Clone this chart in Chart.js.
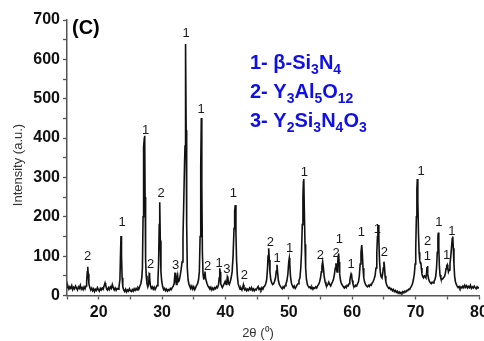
<!DOCTYPE html>
<html>
<head>
<meta charset="utf-8">
<script src="https://cdn.jsdelivr.net/npm/chart.js@4.4.1/dist/chart.umd.min.js"></script>
<style>
  body { margin: 0; background: #fff; }
  #wrap { width: 484px; height: 341px; }
</style>
</head>
<body>
<div id="wrap"><canvas id="xrd" width="484" height="341"></canvas></div>
<script>
/////////////////////////////// data //////////////////////////////////

// measured XRD scan, [2theta, intensity]
const scan = [
  [15.0,20],[15.15,24],[15.3,16],[15.45,22],[15.6,18],[15.75,25],[15.9,15],[16.05,21],[16.2,17],[16.35,24],
  [16.5,19],[16.65,14],[16.8,22],[16.95,18],[17.1,26],[17.25,16],[17.4,20],[17.55,15],[17.7,22],[17.85,17],
  [18.0,24],[18.1,35],[18.2,60],[18.27,73],[18.35,55],[18.45,30],[18.6,20],[18.75,14],[18.9,19],[19.05,12],
  [19.2,17],[19.35,10],[19.5,16],[19.65,13],[19.8,20],[19.95,15],[20.1,11],[20.25,18],[20.4,14],[20.55,19],
  [20.7,16],[20.85,24],[21.0,32],[21.1,26],[21.25,18],[21.4,14],[21.55,20],[21.7,15],[21.85,22],[22.0,18],
  [22.15,28],[22.3,20],[22.45,14],[22.6,19],[22.75,13],[22.9,18],[23.05,16],[23.2,22],[23.35,40],[23.45,110],
  [23.52,151],[23.6,100],[23.7,45],[23.8,22],[23.95,14],[24.1,10],[24.25,16],[24.4,9],[24.55,14],[24.7,11],
  [24.85,17],[25.0,12],[25.15,10],[25.3,15],[25.45,11],[25.6,17],[25.75,13],[25.9,18],[26.05,14],[26.2,20],
  [26.35,17],[26.5,24],[26.65,30],[26.8,45],[26.9,70],[27.0,200],[27.05,370],[27.12,378],[27.2,400],[27.26,406],
  [27.32,250],[27.4,90],[27.5,50],[27.62,30],[27.75,22],[27.88,30],[27.95,50],[28.0,58],[28.07,45],[28.15,26],
  [28.3,18],[28.45,22],[28.6,16],[28.75,21],[28.9,15],[29.05,20],[29.2,25],[29.35,40],[29.45,80],[29.55,180],
  [29.63,237],[29.72,140],[29.82,60],[29.95,35],[30.1,22],[30.25,15],[30.4,18],[30.55,12],[30.7,16],[30.85,11],
  [31.0,15],[31.15,13],[31.3,18],[31.45,15],[31.6,20],[31.75,24],[31.9,30],[32.04,58],[32.15,38],[32.25,28],
  [32.35,45],[32.45,52],[32.55,35],[32.7,38],[32.85,50],[33.0,65],[33.15,85],[33.3,150],[33.45,260],[33.55,340],
  [33.62,380],[33.68,520],[33.73,639],[33.8,420],[33.88,180],[33.98,70],[34.1,40],[34.25,28],[34.4,22],[34.55,18],
  [34.7,24],[34.85,16],[35.0,22],[35.15,15],[35.3,20],[35.45,26],[35.6,30],[35.75,40],[35.88,60],[36.0,150],
  [36.1,330],[36.19,451],[36.27,280],[36.36,110],[36.46,55],[36.58,40],[36.68,52],[36.77,61],[36.86,45],[36.95,38],
  [37.1,30],[37.25,24],[37.4,20],[37.55,16],[37.7,21],[37.85,14],[38.0,19],[38.15,15],[38.3,20],[38.45,17],
  [38.6,23],[38.75,20],[38.9,28],[39.02,45],[39.1,69],[39.16,60],[39.25,30],[39.38,24],[39.5,20],[39.65,25],
  [39.8,30],[39.95,36],[40.1,28],[40.22,35],[40.3,48],[40.38,45],[40.48,32],[40.6,28],[40.75,35],[40.9,45],
  [41.05,60],[41.2,100],[41.35,170],[41.45,215],[41.55,230],[41.65,160],[41.75,90],[41.88,50],[42.0,30],[42.15,22],
  [42.3,16],[42.45,19],[42.6,14],[42.72,20],[42.82,27],[42.92,18],[43.05,14],[43.2,18],[43.35,12],[43.5,16],
  [43.65,13],[43.8,19],[43.95,15],[44.1,20],[44.25,13],[44.4,17],[44.55,12],[44.7,16],[44.85,14],[45.0,19],
  [45.15,23],[45.3,15],[45.45,18],[45.6,14],[45.75,20],[45.9,16],[46.05,22],[46.2,24],[46.35,30],[46.5,40],
  [46.62,65],[46.72,100],[46.82,120],[46.92,90],[47.02,60],[47.15,40],[47.3,32],[47.45,28],[47.6,30],[47.75,36],
  [47.9,45],[48.02,62],[48.13,78],[48.22,60],[48.35,38],[48.5,28],[48.65,24],[48.8,20],[48.95,17],[49.1,22],
  [49.25,19],[49.4,25],[49.55,30],[49.7,38],[49.85,55],[49.98,85],[50.07,95],[50.15,80],[50.25,50],[50.4,32],
  [50.55,25],[50.7,20],[50.85,24],[51.0,18],[51.15,22],[51.3,27],[51.45,30],[51.6,38],[51.75,45],[51.88,70],
  [52.0,110],[52.12,180],[52.22,250],[52.3,290],[52.36,296],[52.44,220],[52.55,130],[52.65,70],[52.78,40],[52.92,28],
  [53.05,24],[53.2,20],[53.35,22],[53.5,17],[53.65,21],[53.8,16],[53.95,20],[54.1,18],[54.25,22],[54.4,19],
  [54.55,25],[54.7,28],[54.85,35],[55.0,45],[55.12,60],[55.22,75],[55.33,86],[55.45,70],[55.58,48],[55.72,35],
  [55.85,28],[56.0,24],[56.15,28],[56.3,34],[56.45,28],[56.6,24],[56.75,30],[56.9,35],[57.05,42],[57.2,55],
  [57.32,70],[57.43,82],[57.52,68],[57.6,60],[57.7,80],[57.78,100],[57.85,107],[57.93,85],[58.02,55],[58.15,38],
  [58.3,30],[58.45,26],[58.6,22],[58.75,19],[58.9,23],[59.05,20],[59.2,26],[59.35,24],[59.5,30],[59.62,38],
  [59.72,48],[59.82,55],[59.9,52],[60.0,38],[60.12,30],[60.25,24],[60.4,22],[60.55,26],[60.7,24],[60.85,30],
  [61.0,36],[61.12,50],[61.25,80],[61.38,110],[61.5,128],[61.6,105],[61.7,70],[61.82,45],[61.95,34],[62.1,28],
  [62.25,24],[62.4,22],[62.55,26],[62.7,23],[62.85,28],[63.0,26],[63.15,32],[63.3,35],[63.45,42],[63.6,50],
  [63.75,70],[63.88,110],[63.98,150],[64.05,170],[64.12,179],[64.2,140],[64.3,90],[64.42,60],[64.55,48],[64.68,45],
  [64.8,55],[64.9,70],[65.0,86],[65.08,75],[65.18,50],[65.3,35],[65.45,26],[65.6,22],[65.75,18],[65.9,20],
  [66.05,15],[66.2,17],[66.35,12],[66.5,15],[66.65,10],[66.8,13],[66.95,8],[67.1,11],[67.25,6],[67.4,9],
  [67.55,5],[67.7,8],[67.85,6],[68.0,10],[68.15,7],[68.3,11],[68.45,9],[68.6,13],[68.75,12],[68.9,16],
  [69.05,15],[69.2,20],[69.35,24],[69.5,30],[69.65,40],[69.8,55],[69.92,80],[70.02,120],[70.12,200],[70.2,270],
  [70.27,296],[70.35,240],[70.45,160],[70.55,110],[70.65,90],[70.75,82],[70.82,84],[70.9,70],[71.0,55],[71.12,48],
  [71.25,45],[71.38,50],[71.5,48],[71.62,45],[71.72,55],[71.8,72],[71.86,75],[71.95,55],[72.05,42],[72.18,36],
  [72.3,33],[72.45,30],[72.6,34],[72.75,32],[72.9,36],[73.05,40],[73.18,50],[73.3,70],[73.42,110],[73.52,150],
  [73.58,160],[73.66,120],[73.75,75],[73.85,52],[73.98,44],[74.1,40],[74.25,42],[74.4,45],[74.55,48],[74.68,55],
  [74.8,68],[74.9,75],[75.0,78],[75.08,70],[75.18,60],[75.3,65],[75.42,80],[75.55,100],[75.68,125],[75.78,145],
  [75.86,150],[75.95,120],[76.05,80],[76.15,50],[76.28,35],[76.42,28],[76.55,24],[76.7,20],[76.85,23],[77.0,18],
  [77.15,22],[77.3,19],[77.45,24],[77.6,20],[77.75,26],[77.9,21],[78.05,25],[78.2,19],[78.35,23],[78.5,20],
  [78.65,26],[78.8,18],[78.95,22],[79.1,19],[79.25,24],[79.4,20],[79.55,17],[79.7,22],[79.85,19],[80.0,21]
];

// phase marks above the peaks
const markTheta = [18.27, 23.68, 27.42, 28.21, 29.83, 32.15, 33.78, 36.14, 37.2, 38.98,
                   40.24, 41.24, 42.97, 47.08, 48.13, 50.14, 52.44, 54.97, 57.44, 57.96,
                   59.81, 61.43, 63.96, 65.06, 70.85, 71.91, 71.85, 73.65, 74.91, 75.7];
const markHeight = [99, 185, 420, 80, 260, 76, 666, 474, 73, 82,
                    67, 260, 52, 134, 95, 120, 312, 103, 107, 143,
                    79, 160, 168, 109, 314, 137, 100, 185, 102, 162];
const markPhase = ['2','1','1','2','2','3','1','1','2','1',
                   '3','1','2','2','1','1','1','2','2','1',
                   '1','1','1','2','1','2','1','1','1','1'];

// phase key, "_n" is a subscript
const phaseKey = ['1- \u03b2-Si_3N_4', '2- Y_3Al_5O_12', '3- Y_2Si_3N_4O_3'];

const xTicks = [15, 20, 25, 30, 35, 40, 45, 50, 55, 60, 65, 70, 75, 80];
const yTicks = [0, 50, 100, 150, 200, 250, 300, 350, 400, 450, 500, 550, 600, 650, 700];

const xTitle = '2\u03b8 (\u2070)';
const yTitle = 'Intensity (a.u.)';

/////////////////////////////// drawing //////////////////////////////////

const FONT = "'Liberation Sans', Arial, Helvetica, sans-serif";

const annotate = {
    id: 'annotate',
    afterDatasetsDraw(chart) {
        const ctx = chart.ctx;
        const xs = chart.scales.x, ys = chart.scales.y;
        ctx.save();

        // peak marks
        ctx.fillStyle = '#1a1a1a';
        ctx.font = '13px ' + FONT;
        ctx.textAlign = 'center';
        ctx.textBaseline = 'middle';
        markTheta.forEach((t, i) => {
            ctx.fillText(markPhase[i], xs.getPixelForValue(t), ys.getPixelForValue(markHeight[i]));
        });

        // axis titles (the original sits a bit off centre)
        ctx.fillStyle = '#333';
        ctx.fillText(xTitle, 258, 333);
        ctx.save();
        ctx.translate(18, 165);
        ctx.rotate(-Math.PI / 2);
        ctx.fillText(yTitle, 0, 0);
        ctx.restore();

        // panel letter
        ctx.fillStyle = '#000';
        ctx.font = 'bold 20px ' + FONT;
        ctx.textAlign = 'left';
        ctx.textBaseline = 'alphabetic';
        ctx.fillText('(C)', 72, 34);

        // phase key with subscripts
        ctx.fillStyle = '#0f0fe6';
        phaseKey.forEach((line, i) => {
            let x = 250;
            const y = 69 + i * 29;
            line.split(/(_\d+)/).forEach(part => {
                if (!part) return;
                if (part[0] === '_') {
                    ctx.font = 'bold 14px ' + FONT;
                    ctx.fillText(part.slice(1), x, y + 5);
                    x += ctx.measureText(part.slice(1)).width;
                } else {
                    ctx.font = 'bold 20px ' + FONT;
                    ctx.fillText(part, x, y);
                    x += ctx.measureText(part).width;
                }
            });
        });
        ctx.restore();
    }
};

const ctx = document.getElementById('xrd').getContext('2d');

new Chart(ctx, {
    type: 'line',
    data: {
        datasets: [{
            data: scan.map(p => ({ x: p[0], y: p[1] })),
            borderColor: '#111',
            borderWidth: 1.6,
            pointRadius: 0,
            tension: 0,
            fill: false
        }]
    },
    options: {
        responsive: false,
        animation: false,
        layout: { padding: { top: 20, right: 5, left: 0, bottom: 0 } },
        plugins: {
            legend: { display: false },
            tooltip: { enabled: false }
        },
        scales: {
            x: {
                type: 'linear',
                min: 15,
                max: 80,
                afterBuildTicks: s => { s.ticks = xTicks.map(v => ({ value: v })); },
                afterFit: s => { s.height = 45.5; s.paddingLeft = 0; s.paddingRight = 0; },
                grid: { drawOnChartArea: false, tickLength: 4, color: '#555', tickWidth: 1.3 },
                border: { color: '#555', width: 1.5 },
                ticks: {
                    autoSkip: false,
                    maxRotation: 0,
                    padding: 3,
                    color: '#111',
                    font: { family: FONT, size: 16, weight: 'bold' },
                    callback: v => (v % 10 === 0 ? v : '')
                }
            },
            y: {
                min: 0,
                max: 700,
                afterBuildTicks: s => { s.ticks = yTicks.map(v => ({ value: v })); },
                afterFit: s => { s.width = 67; s.paddingTop = 0; s.paddingBottom = 0; },
                grid: { drawOnChartArea: false, tickLength: 4, color: '#555', tickWidth: 1.3 },
                border: { color: '#555', width: 1.5 },
                ticks: {
                    autoSkip: false,
                    padding: 3,
                    color: '#111',
                    font: { family: FONT, size: 16, weight: 'bold' },
                    callback: v => (v % 100 === 0 ? v : '')
                }
            }
        }
    },
    plugins: [annotate]
});
</script>
</body>
</html>
